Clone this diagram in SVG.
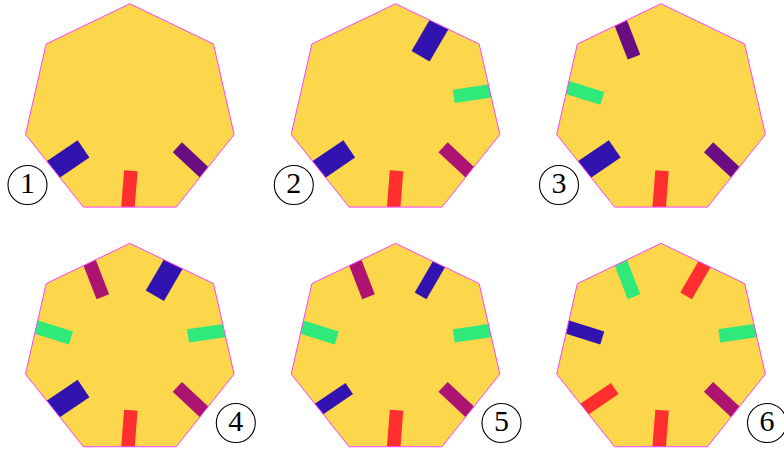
<svg xmlns="http://www.w3.org/2000/svg" xmlns:xlink="http://www.w3.org/1999/xlink" width="784" height="450" viewBox="0 0 784 450">
<style>
.hep{fill:#FCD64B;stroke:none}
.edge{fill:none;stroke:#FF44FF;stroke-width:1}
.blue{fill:#3114B0}
.dpur{fill:#6A0D83}
.mag{fill:#AD1370}
.green{fill:#2FE97A}
.red{fill:#FF2F2F}
.lab circle{fill:#fff;stroke:#000;stroke-width:1.1}
.lab text{font-family:"Liberation Serif","DejaVu Serif",serif;font-size:30px;text-anchor:middle;fill:#000}
</style>
<defs>
<path id="hp" d="M0,-107 L83.656,-66.713 L104.317,23.81 L46.425,96.404 L-46.425,96.404 L-104.317,23.81 L-83.656,-66.713 Z"/>
<clipPath id="hc"><use xlink:href="#hp"/></clipPath>
<rect id="tn" x="0" y="-6.75" width="50" height="13.5"/>
<rect id="tk" x="0" y="-10.5" width="50" height="21"/>
</defs>

<g id="heptagon1" transform="translate(129.8,110.7)">
<use xlink:href="#hp" class="hep"/>
<g clip-path="url(#hc)">
<use xlink:href="#tk" class="blue" transform="translate(-46.249,38.226) rotate(145.93)"/>
<use xlink:href="#tn" class="red" transform="translate(1.047,59.991) rotate(94.5)"/>
<use xlink:href="#tn" class="dpur" transform="translate(47.554,36.587) rotate(43.07)"/>
</g>
<use xlink:href="#hp" class="edge"/>
</g>

<g id="heptagon2" transform="translate(395.5,110.7)">
<use xlink:href="#hp" class="hep"/>
<g clip-path="url(#hc)">
<use xlink:href="#tk" class="blue" transform="translate(-46.249,38.226) rotate(145.93)"/>
<use xlink:href="#tn" class="red" transform="translate(1.047,59.991) rotate(94.5)"/>
<use xlink:href="#tn" class="mag" transform="translate(47.554,36.587) rotate(43.07)"/>
<use xlink:href="#tn" class="green" transform="translate(58.254,-14.369) rotate(-8.36)"/>
<use xlink:href="#tk" class="blue" transform="translate(25.082,-54.506) rotate(-59.79)"/>
</g>
<use xlink:href="#hp" class="edge"/>
</g>

<g id="heptagon3" transform="translate(661,110.7)">
<use xlink:href="#hp" class="hep"/>
<g clip-path="url(#hc)">
<use xlink:href="#tk" class="blue" transform="translate(-46.249,38.226) rotate(145.93)"/>
<use xlink:href="#tn" class="red" transform="translate(1.047,59.991) rotate(94.5)"/>
<use xlink:href="#tn" class="dpur" transform="translate(47.554,36.587) rotate(43.07)"/>
<use xlink:href="#tn" class="green" transform="translate(-58.72,-12.329) rotate(197.36)"/>
<use xlink:href="#tn" class="dpur" transform="translate(-26.972,-53.596) rotate(-111.21)"/>
</g>
<use xlink:href="#hp" class="edge"/>
</g>

<g id="heptagon4" transform="translate(129.8,350.3)">
<use xlink:href="#hp" class="hep"/>
<g clip-path="url(#hc)">
<use xlink:href="#tk" class="blue" transform="translate(-46.249,38.226) rotate(145.93)"/>
<use xlink:href="#tn" class="red" transform="translate(1.047,59.991) rotate(94.5)"/>
<use xlink:href="#tn" class="mag" transform="translate(47.554,36.587) rotate(43.07)"/>
<use xlink:href="#tn" class="green" transform="translate(58.254,-14.369) rotate(-8.36)"/>
<use xlink:href="#tk" class="blue" transform="translate(25.082,-54.506) rotate(-59.79)"/>
<use xlink:href="#tn" class="mag" transform="translate(-26.972,-53.596) rotate(-111.21)"/>
<use xlink:href="#tn" class="green" transform="translate(-58.72,-12.329) rotate(197.36)"/>
</g>
<use xlink:href="#hp" class="edge"/>
</g>

<g id="heptagon5" transform="translate(395.5,350.3)">
<use xlink:href="#hp" class="hep"/>
<g clip-path="url(#hc)">
<use xlink:href="#tn" class="blue" transform="translate(-46.249,38.226) rotate(145.93)"/>
<use xlink:href="#tn" class="red" transform="translate(1.047,59.991) rotate(94.5)"/>
<use xlink:href="#tn" class="mag" transform="translate(47.554,36.587) rotate(43.07)"/>
<use xlink:href="#tn" class="green" transform="translate(58.254,-14.369) rotate(-8.36)"/>
<use xlink:href="#tn" class="blue" transform="translate(25.082,-54.506) rotate(-59.79)"/>
<use xlink:href="#tn" class="mag" transform="translate(-26.972,-53.596) rotate(-111.21)"/>
<use xlink:href="#tn" class="green" transform="translate(-58.72,-12.329) rotate(197.36)"/>
</g>
<use xlink:href="#hp" class="edge"/>
</g>

<g id="heptagon6" transform="translate(661,350.3)">
<use xlink:href="#hp" class="hep"/>
<g clip-path="url(#hc)">
<use xlink:href="#tn" class="red" transform="translate(-46.249,38.226) rotate(145.93)"/>
<use xlink:href="#tn" class="red" transform="translate(1.047,59.991) rotate(94.5)"/>
<use xlink:href="#tn" class="mag" transform="translate(47.554,36.587) rotate(43.07)"/>
<use xlink:href="#tn" class="green" transform="translate(58.254,-14.369) rotate(-8.36)"/>
<use xlink:href="#tn" class="red" transform="translate(25.082,-54.506) rotate(-59.79)"/>
<use xlink:href="#tn" class="green" transform="translate(-26.972,-53.596) rotate(-111.21)"/>
<use xlink:href="#tn" class="blue" transform="translate(-58.72,-12.329) rotate(197.36)"/>
</g>
<use xlink:href="#hp" class="edge"/>
</g>

<g id="label1" class="lab"><circle cx="27.5" cy="185" r="19.5"/><text x="27.5" y="193">1</text></g>
<g id="label2" class="lab"><circle cx="293.8" cy="185" r="19.5"/><text x="293.8" y="193">2</text></g>
<g id="label3" class="lab"><circle cx="559" cy="185" r="19.5"/><text x="559" y="193">3</text></g>
<g id="label4" class="lab"><circle cx="235.8" cy="423" r="19.5"/><text x="235.8" y="431">4</text></g>
<g id="label5" class="lab"><circle cx="501.5" cy="423" r="19.5"/><text x="501.5" y="431">5</text></g>
<g id="label6" class="lab"><circle cx="767" cy="423" r="19.5"/><text x="767" y="431">6</text></g>
<g id="connectors"/>
</svg>
